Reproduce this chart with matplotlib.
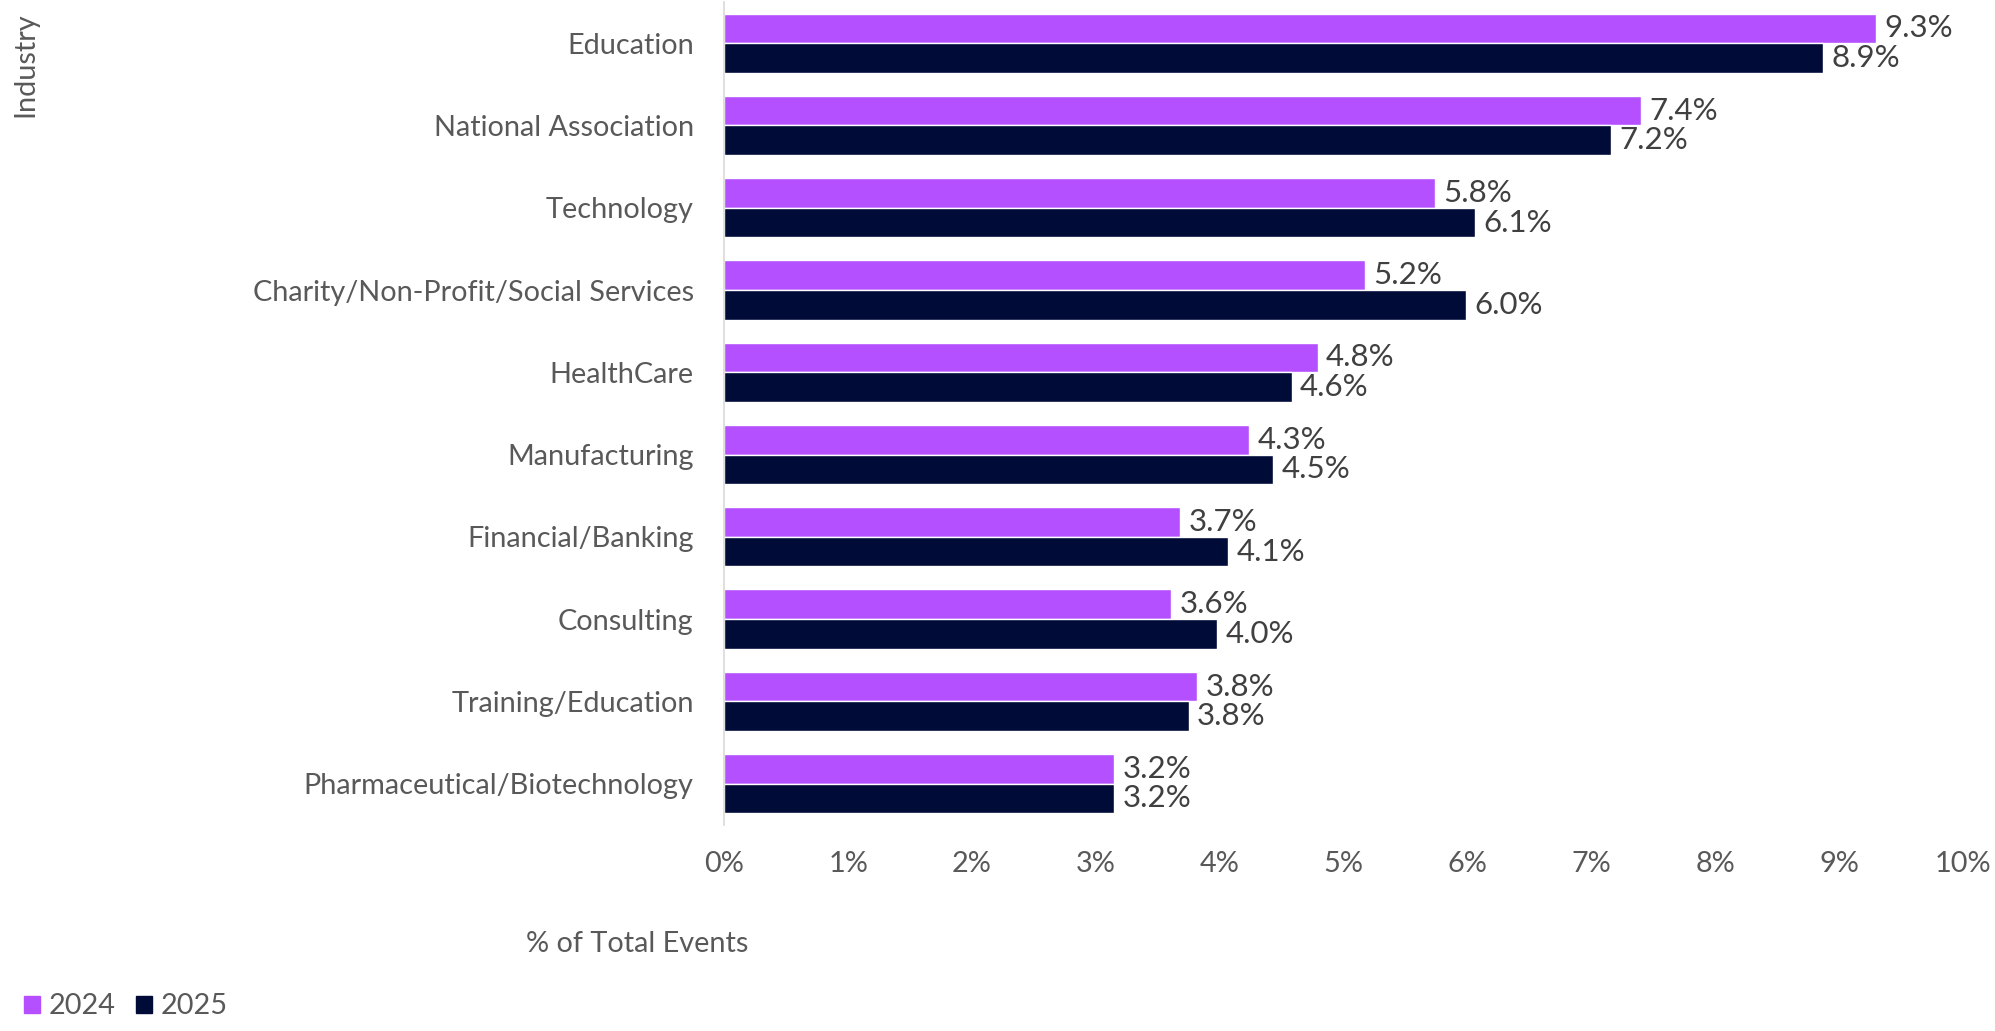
import matplotlib
matplotlib.use("Agg")
import matplotlib.pyplot as plt
from matplotlib.patches import Patch
import numpy as np

plt.rcParams['font.family'] = ['Lato', 'DejaVu Sans']

categories = ["Education", "National Association", "Technology",
              "Charity/Non-Profit/Social Services", "HealthCare", "Manufacturing",
              "Financial/Banking", "Consulting", "Training/Education",
              "Pharmaceutical/Biotechnology"]
values_2024 = [9.30, 7.40, 5.74, 5.17, 4.79, 4.24, 3.68, 3.61, 3.82, 3.15]
values_2025 = [8.87, 7.16, 6.06, 5.99, 4.58, 4.43, 4.07, 3.98, 3.75, 3.15]
labels_2024 = ["9.3%", "7.4%", "5.8%", "5.2%", "4.8%", "4.3%", "3.7%", "3.6%", "3.8%", "3.2%"]
labels_2025 = ["8.9%", "7.2%", "6.1%", "6.0%", "4.6%", "4.5%", "4.1%", "4.0%", "3.8%", "3.2%"]
xticks = [0, 1, 2, 3, 4, 5, 6, 7, 8, 9, 10]
xtick_labels = ["0%", "1%", "2%", "3%", "4%", "5%", "6%", "7%", "8%", "9%", "10%"]

c2024 = "#B450FF"
c2025 = "#000B38"
tick_col = "#595959"
lab_col = "#404040"
fs = 20.8
fs_lab = 22.5

fig = plt.figure(figsize=(19.95, 10.31), dpi=100)
ax = fig.add_axes([0.363, 0.200, 0.621, 0.798])

y = np.arange(len(categories))
h = 0.36
ax.barh(y - h / 2, values_2024, height=h, color=c2024, edgecolor="white", linewidth=1, label="2024")
ax.barh(y + h / 2, values_2025, height=h, color=c2025, edgecolor="white", linewidth=1, label="2025")

for yi, v, t in zip(y, values_2024, labels_2024):
    ax.annotate(t, (v, yi - h / 2), xytext=(6, 0), textcoords="offset points",
                va="center", ha="left", fontsize=fs_lab, color=lab_col)
for yi, v, t in zip(y, values_2025, labels_2025):
    ax.annotate(t, (v, yi + h / 2), xytext=(6, 0), textcoords="offset points",
                va="center", ha="left", fontsize=fs_lab, color=lab_col)

ax.set_ylim(len(categories) - 0.5, -0.5)
ax.set_xlim(0, 10)
ax.set_yticks(y)
ax.set_yticklabels(categories, fontsize=fs, color=tick_col)
ax.set_xticks(xticks)
ax.set_xticklabels(xtick_labels, fontsize=fs, color=tick_col)
ax.tick_params(axis="both", length=0)
ax.tick_params(axis="y", pad=22)
ax.tick_params(axis="x", pad=19)
for s in ["top", "right", "bottom"]:
    ax.spines[s].set_visible(False)
ax.spines["left"].set_color("#D9D9D9")
ax.spines["left"].set_linewidth(1.2)

fig.text(0.3195, 0.084, "% of Total Events", fontsize=fs, color=tick_col, ha="center", va="center")
fig.text(0.0125, 0.988, "Industry", fontsize=fs, color=tick_col, ha="center", va="top", rotation=90)

handles = [Patch(color=c2024, label="2024"), Patch(color=c2025, label="2025")]
leg = fig.legend(handles=handles, loc="lower left", bbox_to_anchor=(-0.001, -0.014), ncol=2,
                 frameon=False, fontsize=fs, handlelength=0.55, handleheight=0.55,
                 handletextpad=0.3, columnspacing=0.7, labelcolor=tick_col)

fig.savefig("out.png", dpi=100)
